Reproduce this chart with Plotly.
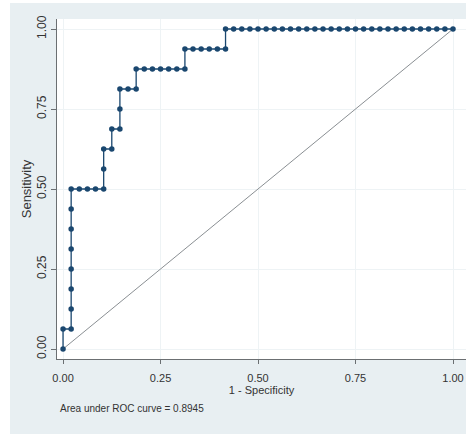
import plotly.graph_objects as go

# ROC points (1 - specificity, sensitivity)
fpr = [0.0, 0.0, 0.0208, 0.0208, 0.0208, 0.0208, 0.0208, 0.0208, 0.0208, 0.0208,
       0.0417, 0.0625, 0.0833, 0.1042, 0.1042, 0.1042, 0.125, 0.125, 0.1458, 0.1458,
       0.1458, 0.1667, 0.1875, 0.1875, 0.2083, 0.2292, 0.25, 0.2708, 0.2917, 0.3125,
       0.3125, 0.3333, 0.3542, 0.375, 0.3958, 0.4167, 0.4167, 0.4375, 0.4583, 0.4792,
       0.5, 0.5208, 0.5417, 0.5625, 0.5833, 0.6042, 0.625, 0.6458, 0.6667, 0.6875,
       0.7083, 0.7292, 0.75, 0.7708, 0.7917, 0.8125, 0.8333, 0.8542, 0.875, 0.8958,
       0.9167, 0.9375, 0.9583, 0.9792, 1.0]
tpr = [0.0, 0.0625, 0.0625, 0.125, 0.1875, 0.25, 0.3125, 0.375, 0.4375, 0.5,
       0.5, 0.5, 0.5, 0.5, 0.5625, 0.625, 0.625, 0.6875, 0.6875, 0.75,
       0.8125, 0.8125, 0.8125, 0.875, 0.875, 0.875, 0.875, 0.875, 0.875, 0.875,
       0.9375, 0.9375, 0.9375, 0.9375, 0.9375, 0.9375, 1.0, 1.0, 1.0, 1.0,
       1.0, 1.0, 1.0, 1.0, 1.0, 1.0, 1.0, 1.0, 1.0, 1.0,
       1.0, 1.0, 1.0, 1.0, 1.0, 1.0, 1.0, 1.0, 1.0, 1.0,
       1.0, 1.0, 1.0, 1.0, 1.0]
ref_x = [0.0, 1.0]
ref_y = [0.0, 1.0]
tick_vals = [0.0, 0.25, 0.5, 0.75, 1.0]
tick_text = ["0.00", "0.25", "0.50", "0.75", "1.00"]
auc_note = "Area under ROC curve = 0.8945"

NAVY = "#1a476f"
BG = "#e8eff2"
GRID = "#eef3f5"
FONT = "Liberation Sans, Arial, sans-serif"

W, H = 466, 434
ML, MR, MT, MB = 57, 0, 19, 75
PW, PH = W - ML - MR, H - MT - MB

fig = go.Figure()
fig.add_trace(go.Scatter(x=ref_x, y=ref_y, mode="lines",
                         line=dict(color="#8a8f93", width=1), hoverinfo="skip"))
fig.add_trace(go.Scatter(x=fpr, y=tpr, mode="lines+markers",
                         line=dict(color=NAVY, width=1.3),
                         marker=dict(color=NAVY, size=5.5, symbol="circle")))

# white strips at left and top edge of the picture
fig.add_shape(type="rect", xref="paper", yref="paper", layer="below",
              x0=(0 - ML) / PW, x1=(10 - ML) / PW,
              y0=(MT + PH - H) / PH, y1=(MT + PH) / PH,
              fillcolor="white", line=dict(width=0))
fig.add_shape(type="rect", xref="paper", yref="paper", layer="below",
              x0=(0 - ML) / PW, x1=(W - ML) / PW,
              y0=(MT + PH - 3) / PH, y1=(MT + PH) / PH,
              fillcolor="white", line=dict(width=0))

fig.add_annotation(text=auc_note, xref="paper", yref="paper",
                   x=(58 - ML) / PW, y=(359 - 408) / PH,
                   xanchor="left", yanchor="middle", showarrow=False,
                   font=dict(family=FONT, size=10, color="#333"))

fig.update_layout(
    width=W, height=H,
    margin=dict(l=ML, r=MR, t=MT, b=MB, pad=0),
    paper_bgcolor=BG, plot_bgcolor="white",
    showlegend=False,
    font=dict(family=FONT, color="#222"),
    xaxis=dict(range=[-0.0155, 1.0333], tickvals=tick_vals, ticktext=tick_text,
               showline=True, linecolor="#6b6f72", linewidth=1,
               ticks="outside", ticklen=4, tickcolor="#6b6f72",
               showgrid=True, gridcolor=GRID, gridwidth=1, zeroline=False,
               ticklabeloverflow="allow", ticklabelstandoff=5,
               tickfont=dict(size=11, color="#333"),
               title=dict(text="1 - Specificity", standoff=0,
                          font=dict(size=11, color="#333"))),
    yaxis=dict(range=[-0.03125, 1.03125], tickvals=tick_vals, ticktext=tick_text,
               showline=True, linecolor="#6b6f72", linewidth=1,
               ticks="outside", ticklen=5, tickcolor="#6b6f72",
               showgrid=True, gridcolor=GRID, gridwidth=1, zeroline=False,
               tickangle=-90, ticklabelstandoff=0,
               tickfont=dict(size=12, color="#333"),
               title=dict(text="Sensitivity", standoff=0,
                          font=dict(size=13, color="#333"))),
)

fig.write_html("out.html", config={"displayModeBar": False},
               post_script="document.body.style.margin='0';document.body.style.overflow='hidden';")
